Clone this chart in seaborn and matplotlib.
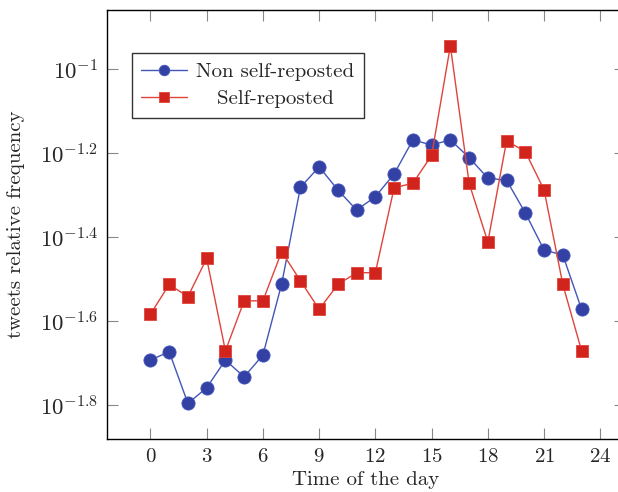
import matplotlib
matplotlib.use("Agg")
import matplotlib.pyplot as plt
import seaborn as sns
import pandas as pd
import numpy as np
from matplotlib.ticker import FixedLocator, FuncFormatter, NullLocator

hours = list(range(24))
non_self = [0.02032, 0.02128, 0.01603, 0.01746, 0.02032, 0.01854, 0.02089, 0.03083,
            0.05236, 0.05861, 0.05164, 0.04624, 0.04977, 0.05636, 0.06792, 0.06607,
            0.06792, 0.06166, 0.05508, 0.05445, 0.04550, 0.03715, 0.03614, 0.02685]
self_rep = [0.02612, 0.03076, 0.02877, 0.03548, 0.02138, 0.02812, 0.02812, 0.03681,
            0.03141, 0.02685, 0.03076, 0.03281, 0.03281, 0.05224, 0.05358, 0.06237,
            0.11376, 0.05358, 0.03882, 0.06761, 0.06368, 0.05164, 0.03076, 0.02138]
series_names = ["Non self-reposted", "Self-reposted"]
x_ticks = [0, 3, 6, 9, 12, 15, 18, 21, 24]
y_exps = [-1.8, -1.6, -1.4, -1.2, -1.0]
y_tick_labels = [r"$10^{-1.8}$", r"$10^{-1.6}$", r"$10^{-1.4}$", r"$10^{-1.2}$", r"$10^{-1}$"]

sns.set_style("ticks")
plt.rcParams["font.family"] = ["serif"]
plt.rcParams["font.serif"] = ["cmr10", "DejaVu Serif"]
plt.rcParams["mathtext.fontset"] = "cm"
plt.rcParams["axes.unicode_minus"] = False
plt.rcParams["axes.formatter.use_mathtext"] = True

df = pd.DataFrame({
    "hour": hours * 2,
    "freq": non_self + self_rep,
    "series": [series_names[0]] * 24 + [series_names[1]] * 24,
})

fig = plt.figure(figsize=(6.18, 4.92), dpi=100)
W, H = 618, 492
left, right, top, bottom = 107.3, 624.7, 10.0, 439.3
ax = fig.add_axes([left / W, 1 - bottom / H, (right - left) / W, (bottom - top) / H])

blue_fill, blue_line = "#3341a5", "#4356b8"
red_fill, red_line = "#d1241c", "#e0433b"

sns.lineplot(data=df[df.series == series_names[0]], x="hour", y="freq", ax=ax,
             color=blue_line, lw=1.0, marker="o", markersize=9.5,
             markerfacecolor=blue_fill, markeredgecolor=blue_line, markeredgewidth=0.6,
             label=series_names[0])
sns.lineplot(data=df[df.series == series_names[1]], x="hour", y="freq", ax=ax,
             color=red_line, lw=1.0, marker="s", markersize=8.5,
             markerfacecolor=red_fill, markeredgecolor=red_line, markeredgewidth=0.6,
             label="   " + series_names[1])

ax.set_yscale("log")
ax.set_xlim(-2.3, 25.3)
ax.set_ylim(10 ** -1.8805, 10 ** -0.8588)
ax.xaxis.set_major_locator(FixedLocator(x_ticks))
ax.yaxis.set_major_locator(FixedLocator([10 ** e for e in y_exps]))
ax.yaxis.set_minor_locator(NullLocator())
ax.xaxis.set_minor_locator(NullLocator())
ax.yaxis.set_major_formatter(FuncFormatter(lambda v, p: y_tick_labels[int(np.argmin([abs(np.log10(v) - e) for e in y_exps]))]))
ax.tick_params(axis="both", which="major", direction="in", length=8, width=0.8,
               color="#888888", labelsize=15, top=True, right=True, pad=6)
ax.tick_params(axis="y", labelsize=16.5, pad=6.5)
for s in ax.spines.values():
    s.set_linewidth(1.0)
    s.set_color("black")

ax.set_xlabel("Time of the day", fontsize=15, labelpad=4)
ax.set_ylabel("tweets relative frequency", fontsize=15, labelpad=6)
ax.yaxis.set_label_coords((25 - left) / (right - left), 0.5)

leg = ax.legend(loc="upper left", bbox_to_anchor=((131.7 - left) / (right - left), 1 - (53.3 - top) / (bottom - top)),
                fontsize=15, frameon=True, fancybox=False, edgecolor="black",
                borderpad=0.45, handlelength=2.2, handletextpad=0.45, labelspacing=0.4,
                borderaxespad=0, markerscale=0.8)
leg.get_frame().set_linewidth(1.0)

fig.savefig("out.png", dpi=100)
